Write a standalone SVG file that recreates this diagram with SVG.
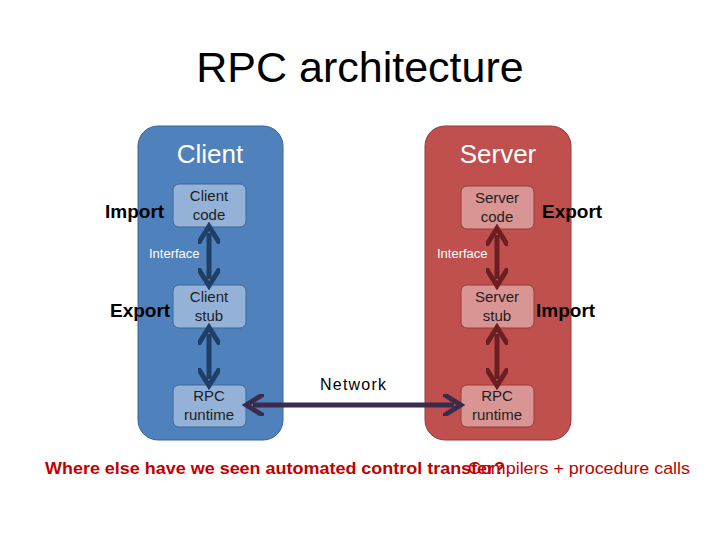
<svg xmlns="http://www.w3.org/2000/svg" width="720" height="540" viewBox="0 0 720 540">
<style>
text{font-family:"Liberation Sans",Arial,sans-serif}
.box{stroke-width:1}
.cb{fill:#94b1d8;stroke:#3d6699}
.sb{fill:#d99593;stroke:#9a3b39}
.bt{font-size:15px;fill:#1e1e1e;text-anchor:middle}
.lbl{font-size:19px;font-weight:bold;fill:#000}
.ifc{font-size:13px;fill:#fff}
</style>
<defs>
<marker id="ab" viewBox="0 0 10 10" refX="5" refY="5" markerWidth="4.5" markerHeight="4.5" orient="auto-start-reverse"><path d="M0,0L8,5L0,10" fill="none" stroke="#1f3f66" stroke-width="2.2"/></marker>
<marker id="ar" viewBox="0 0 10 10" refX="5" refY="5" markerWidth="4.5" markerHeight="4.5" orient="auto-start-reverse"><path d="M0,0L8,5L0,10" fill="none" stroke="#6b1f22" stroke-width="2.2"/></marker>
<marker id="an" viewBox="0 0 10 10" refX="5" refY="5" markerWidth="4.5" markerHeight="4.5" orient="auto-start-reverse"><path d="M0,0L8,5L0,10" fill="none" stroke="#3b2b4c" stroke-width="2.2"/></marker>
</defs>
<rect width="720" height="540" fill="#fff"/>
<text x="360" y="82" font-size="43" text-anchor="middle" fill="#000">RPC architecture</text>
<g id="client">
<rect x="138" y="126" width="145" height="314" rx="20" fill="#4f81bd" stroke="#3a6395"/>
<text x="210" y="163" font-size="26" fill="#fff" text-anchor="middle">Client</text>
</g>
<g id="server">
<rect x="425" y="126" width="146" height="314" rx="20" fill="#c0504d" stroke="#943a38"/>
<text x="498" y="163" font-size="26" fill="#fff" text-anchor="middle">Server</text>
</g>
<g id="client-code"><rect class="box cb" x="173" y="184" width="73" height="43" rx="6"/><text class="bt" x="209" y="201">Client</text><text class="bt" x="209" y="220">code</text></g>
<g id="client-stub"><rect class="box cb" x="173" y="285" width="73" height="43" rx="6"/><text class="bt" x="209" y="302">Client</text><text class="bt" x="209" y="321">stub</text></g>
<g id="client-rpc"><rect class="box cb" x="173" y="385" width="73" height="42" rx="6"/><text class="bt" x="209" y="401">RPC</text><text class="bt" x="209" y="420">runtime</text></g>
<g id="server-code"><rect class="box sb" x="461" y="186" width="73" height="43" rx="6"/><text class="bt" x="497" y="203">Server</text><text class="bt" x="497" y="222">code</text></g>
<g id="server-stub"><rect class="box sb" x="461" y="285" width="73" height="43" rx="6"/><text class="bt" x="497" y="302">Server</text><text class="bt" x="497" y="321">stub</text></g>
<g id="server-rpc"><rect class="box sb" x="461" y="385" width="73" height="42" rx="6"/><text class="bt" x="497" y="401">RPC</text><text class="bt" x="497" y="420">runtime</text></g>
<g id="connectors" stroke-width="5" fill="none">
<line x1="209" y1="233" x2="209" y2="279" stroke="#1f3f66" marker-start="url(#ab)" marker-end="url(#ab)"/>
<line x1="209" y1="334" x2="209" y2="379" stroke="#1f3f66" marker-start="url(#ab)" marker-end="url(#ab)"/>
<line x1="497" y1="235" x2="497" y2="279" stroke="#6b1f22" marker-start="url(#ar)" marker-end="url(#ar)"/>
<line x1="497" y1="334" x2="497" y2="379" stroke="#6b1f22" marker-start="url(#ar)" marker-end="url(#ar)"/>
<line x1="253" y1="405" x2="454" y2="405" stroke="#3b2b4c" marker-start="url(#an)" marker-end="url(#an)"/>
</g>
<text class="ifc" x="149" y="258">Interface</text>
<text class="ifc" x="437" y="258">Interface</text>
<text class="lbl" x="105" y="218">Import</text>
<text class="lbl" x="110" y="317">Export</text>
<text class="lbl" x="542" y="218">Export</text>
<text class="lbl" x="536" y="317">Import</text>
<text x="320" y="390" font-size="16" fill="#000" textLength="66">Network</text>
<text x="45" y="474" font-size="16" font-weight="bold" fill="#c00000" textLength="460" lengthAdjust="spacingAndGlyphs">Where else have we seen automated control transfer?</text>
<text x="468" y="474" font-size="17" fill="#c00000" textLength="222" lengthAdjust="spacingAndGlyphs">Compilers + procedure calls</text>
</svg>
